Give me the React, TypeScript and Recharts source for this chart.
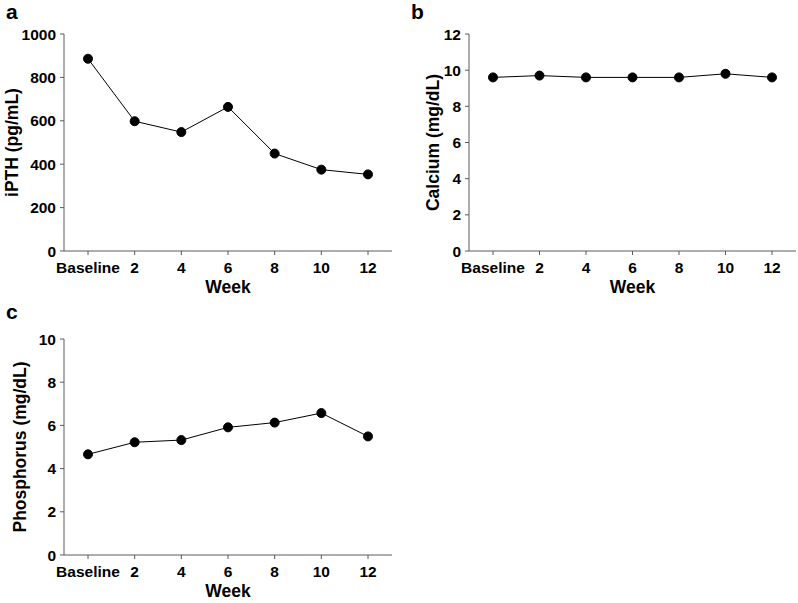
import { LineChart, Line, XAxis, YAxis, Label } from 'recharts';

const weeks = ['Baseline', '2', '4', '6', '8', '10', '12'];
const ipth = [886, 598, 548, 664, 449, 375, 353];
const calcium = [9.6, 9.7, 9.6, 9.6, 9.6, 9.8, 9.6];
const phosphorus = [4.66, 5.22, 5.32, 5.91, 6.13, 6.57, 5.49];

const ipthTicks = [0, 200, 400, 600, 800, 1000];
const calciumTicks = [0, 2, 4, 6, 8, 10, 12];
const phosphorusTicks = [0, 2, 4, 6, 8, 10];

const FONT = "'Liberation Sans', Arial, Helvetica, sans-serif";
const AXIS = '#5a5a5a';

interface PanelProps {
  letter: string;
  values: number[];
  ticks: number[];
  yLabel: string;
  yLabelX: number;
  left: number;
  top: number;
  width: number;
  height: number;
  marginTop: number;
  marginRight: number;
  xAxisHeight: number;
}

function Panel(p: PanelProps) {
  const data = weeks.map((w, i) => ({ week: w, value: p.values[i] }));
  const max = p.ticks[p.ticks.length - 1];

  return (
    <div style={{ position: 'absolute', left: p.left, top: p.top }}>
      <LineChart
        width={p.width}
        height={p.height}
        data={data}
        margin={{ top: p.marginTop, right: p.marginRight, bottom: 0, left: 0 }}
      >
        <XAxis
          dataKey="week"
          interval={0}
          height={p.xAxisHeight}
          padding={{ left: 24, right: 24 }}
          tickSize={4}
          tickMargin={7}
          axisLine={{ stroke: AXIS, strokeWidth: 1 }}
          tickLine={{ stroke: AXIS, strokeWidth: 1 }}
          tick={{ fill: '#000', fontSize: 15.5, fontWeight: 700, fontFamily: FONT }}
        >
          <Label
            content={(props: any) => {
              const vb = props.viewBox || {};
              return (
                <text
                  x={vb.x + vb.width / 2}
                  y={vb.y + 42}
                  textAnchor="middle"
                  fontSize={17.5}
                  fontWeight={700}
                  fontFamily={FONT}
                  fill="#000"
                >
                  Week
                </text>
              );
            }}
          />
        </XAxis>
        <YAxis
          type="number"
          domain={[0, max]}
          ticks={p.ticks}
          interval={0}
          width={64}
          tickSize={4}
          tickMargin={4}
          axisLine={{ stroke: AXIS, strokeWidth: 1 }}
          tickLine={{ stroke: AXIS, strokeWidth: 1 }}
          tick={{ fill: '#000', fontSize: 15.5, fontWeight: 700, fontFamily: FONT }}
        >
          <Label
            content={(props: any) => {
              const vb = props.viewBox || {};
              const cy = vb.y + vb.height / 2;
              return (
                <text
                  x={p.yLabelX}
                  y={cy}
                  transform={`rotate(-90, ${p.yLabelX}, ${cy})`}
                  textAnchor="middle"
                  dominantBaseline="central"
                  fontSize={17.5}
                  fontWeight={700}
                  fontFamily={FONT}
                  fill="#000"
                >
                  {p.yLabel}
                </text>
              );
            }}
          />
        </YAxis>
        <Line
          type="linear"
          dataKey="value"
          stroke="#000"
          strokeWidth={1}
          dot={{ r: 4.5, fill: '#000', stroke: '#000', strokeWidth: 1 }}
          activeDot={false}
          isAnimationActive={false}
        />
      </LineChart>
      <svg
        width={30}
        height={30}
        style={{ position: 'absolute', left: 0, top: 0, overflow: 'visible' }}
      >
        <text x={6} y={19} fontSize={21} fontWeight={700} fontFamily={FONT} fill="#000">
          {p.letter}
        </text>
      </svg>
    </div>
  );
}

export default function App() {
  return (
    <div
      style={{
        position: 'absolute',
        left: 0,
        top: 0,
        width: 798,
        height: 603,
        background: '#fff',
        overflow: 'hidden',
      }}
    >
      <Panel
        letter="a"
        values={ipth}
        ticks={ipthTicks}
        yLabel="iPTH (pg/mL)"
        yLabelX={12}
        left={0}
        top={0}
        width={400}
        height={300}
        marginTop={34}
        marginRight={8}
        xAxisHeight={49}
      />
      <Panel
        letter="b"
        values={calcium}
        ticks={calciumTicks}
        yLabel="Calcium (mg/dL)"
        yLabelX={28}
        left={405}
        top={0}
        width={393}
        height={300}
        marginTop={34}
        marginRight={2}
        xAxisHeight={49}
      />
      <Panel
        letter="c"
        values={phosphorus}
        ticks={phosphorusTicks}
        yLabel="Phosphorus (mg/dL)"
        yLabelX={20}
        left={0}
        top={300}
        width={400}
        height={303}
        marginTop={39}
        marginRight={8}
        xAxisHeight={48}
      />
    </div>
  );
}
